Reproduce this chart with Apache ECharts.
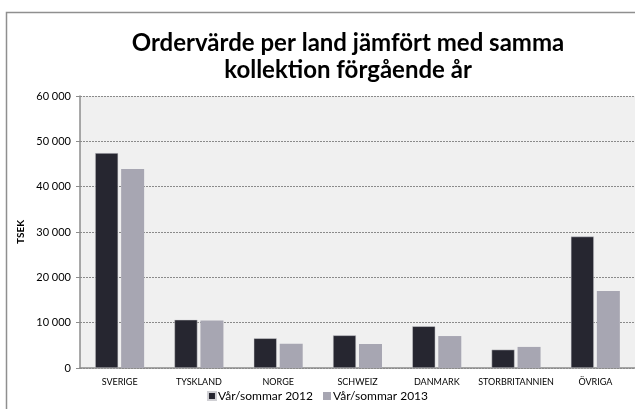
<!DOCTYPE html>
<html><head><meta charset="utf-8">
<script src="https://cdn.jsdelivr.net/npm/echarts@6/dist/echarts.min.js"></script>
<style>html,body{margin:0;padding:0;background:#fff;overflow:hidden}#c{width:635px;height:409px}</style>
</head><body><div id="c"></div>
<script>
const categories = ['SVERIGE','TYSKLAND','NORGE','SCHWEIZ','DANMARK','STORBRITANNIEN','ÖVRIGA'];
const series2012 = [47400, 10650, 6550, 7200, 9200, 4050, 29000];
const series2013 = [43900, 10500, 5350, 5300, 7050, 4650, 17000];
const seriesNames = ['Vår/sommar 2012', 'Vår/sommar 2013'];
const titleLines = ['Ordervärde per land jämfört med samma', 'kollektion förgående år'];
const yAxisName = 'TSEK';

const chart = echarts.init(document.getElementById('c'));
const fmt = v => String(v).replace(/\B(?=(\d{3})+(?!\d))/g, ' ');
chart.setOption({
  animation: false,
  backgroundColor: '#fff',
  graphic: [{
    type: 'polyline', z: -10, silent: true,
    shape: { points: [[640, 12.5], [6.5, 12.5], [6.5, 420]] },
    style: { fill: null, stroke: '#8f8f8f', lineWidth: 1.5 }
  }],
  title: {
    text: titleLines.join('\n'),
    left: 343, top: 25, textAlign: 'center',
    textStyle: { fontFamily: 'Lato', fontWeight: 'bold', fontSize: 24, lineHeight: 27, color: '#000' }
  },
  legend: {
    data: seriesNames, bottom: 2, left: 'center', itemWidth: 8, itemHeight: 8, itemGap: 10,
    icon: 'rect',
    textStyle: { fontFamily: 'Lato', fontSize: 12, color: '#000', padding: [0,0,0,-3] }
  },
  grid: { left: 80, top: 96, width: 557, bottom: 41, show: true, backgroundColor: '#f0f0f0', borderWidth: 0 },
  xAxis: {
    type: 'category', data: categories,
    axisLine: { lineStyle: { color: '#8c8c8c', width: 1.5 } },
    axisTick: { show: false },
    axisLabel: { fontFamily: 'Lato', fontSize: 9, color: '#000', margin: 10, interval: 0 }
  },
  yAxis: {
    type: 'value', min: 0, max: 60000, interval: 10000,
    name: yAxisName, nameLocation: 'middle', nameGap: 50, nameRotate: 90,
    nameTextStyle: { fontFamily: 'Lato', fontWeight: 'bold', fontSize: 10, color: '#000' },
    axisLine: { show: true, lineStyle: { color: '#8c8c8c', width: 1.5 } },
    axisTick: { show: true, length: 4, lineStyle: { color: '#8c8c8c' } },
    axisLabel: { fontFamily: 'Lato', fontSize: 11, color: '#000', margin: 9, formatter: fmt },
    splitLine: { lineStyle: { color: '#8a8a8a', type: [2, 1], width: 1 } }
  },
  series: [
    { name: seriesNames[0], type: 'bar', data: series2012, barWidth: 23, barGap: '13%',
      itemStyle: { color: '#262630', borderColor: '#d0d0d4', borderWidth: 0.5 } },
    { name: seriesNames[1], type: 'bar', data: series2013, barWidth: 23,
      itemStyle: { color: '#a7a6b2' } }
  ]
});
</script></body></html>
